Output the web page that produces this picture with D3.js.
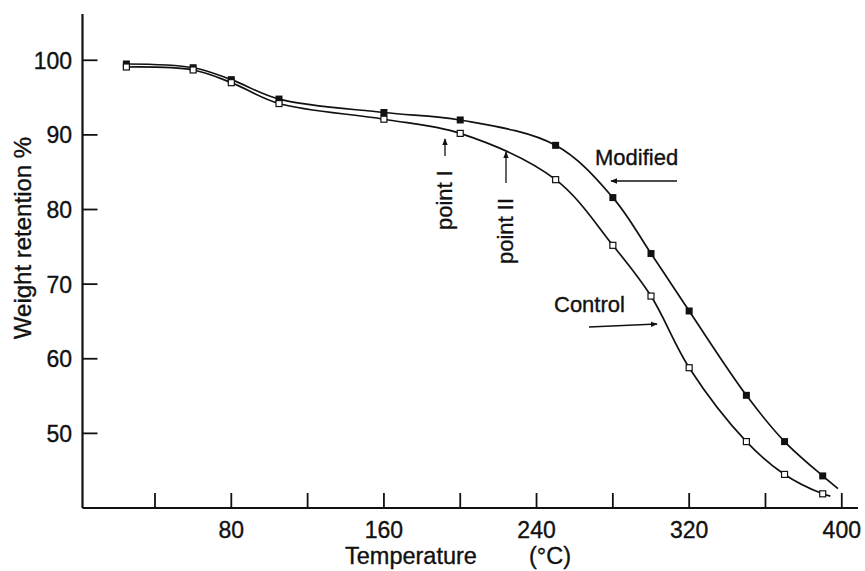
<!DOCTYPE html>
<html lang="en">
<head>
    <meta charset="UTF-8">
    <title>Weight retention vs temperature</title>
    <script src="https://d3js.org/d3.v7.min.js"></script>
    <style>
        body { margin: 0; background: #fff; }
        text { font-family: "Liberation Sans", Arial, sans-serif; fill: #111; stroke: #111; stroke-width: 0.35px; }
    </style>
</head>
<body>
    <div id="chart"></div>
    <script>
        // values
        var temps = [25, 60, 80, 105, 160, 200, 250, 280, 300, 320, 350, 370, 390];
        var modified = [99.5, 99.0, 97.4, 94.8, 93.0, 92.0, 88.6, 81.6, 74.1, 66.4, 55.1, 48.9, 44.3];
        var control = [99.1, 98.7, 97.0, 94.2, 92.1, 90.2, 84.0, 75.2, 68.4, 58.8, 48.9, 44.5, 41.9];
        // where each drawn curve runs out past the last marker
        var modifiedEnd = [398, 42.6];
        var controlEnd = [394, 41.6];

        var xTicks = [40, 80, 120, 160, 200, 240, 280, 320, 360, 400];
        var xLabels = [80, 160, 240, 320, 400];
        var yTicks = [50, 60, 70, 80, 90, 100];

        var width = 865, height = 571;

        var svg = d3.select("#chart")
            .append("svg")
            .attr("width", width)
            .attr("height", height);

        var x = d3.scaleLinear().domain([2, 408.5]).range([82.5, 858]);
        var y = d3.scaleLinear().domain([40, 106.2]).range([508, 14]);

        var ink = "#111";

        // axes lines
        svg.append("line")
            .attr("x1", x(2)).attr("x2", x(2))
            .attr("y1", y(106.2)).attr("y2", y(40))
            .attr("stroke", ink).attr("stroke-width", 2.2);
        svg.append("line")
            .attr("x1", x(2)).attr("x2", x(408.5))
            .attr("y1", y(40)).attr("y2", y(40))
            .attr("stroke", ink).attr("stroke-width", 2.2);

        // x ticks point up into the plot
        svg.selectAll(".xt")
            .data(xTicks)
            .enter()
            .append("line")
            .attr("x1", function(d){ return x(d) })
            .attr("x2", function(d){ return x(d) })
            .attr("y1", y(40))
            .attr("y2", y(40) - 15)
            .attr("stroke", ink).attr("stroke-width", 1.8);

        svg.selectAll(".xl")
            .data(xLabels)
            .enter()
            .append("text")
            .attr("x", function(d){ return x(d) })
            .attr("y", 538)
            .attr("text-anchor", "middle")
            .attr("font-size", "23px")
            .text(function(d){ return d });

        svg.selectAll(".yt")
            .data(yTicks)
            .enter()
            .append("line")
            .attr("x1", x(2))
            .attr("x2", x(2) + 15)
            .attr("y1", function(d){ return y(d) })
            .attr("y2", function(d){ return y(d) })
            .attr("stroke", ink).attr("stroke-width", 1.8);

        svg.selectAll(".yl")
            .data(yTicks)
            .enter()
            .append("text")
            .attr("x", 72)
            .attr("y", function(d){ return y(d) + 8.5 })
            .attr("text-anchor", "end")
            .attr("font-size", "23px")
            .text(function(d){ return d });

        // axis titles
        svg.append("text")
            .attr("x", 345).attr("y", 564)
            .attr("font-size", "23.5px")
            .text("Temperature");
        svg.append("text")
            .attr("x", 529).attr("y", 564)
            .attr("font-size", "23.5px")
            .text("(\u00B0C)");
        svg.append("text")
            .attr("transform", "translate(31,238) rotate(-90)")
            .attr("text-anchor", "middle")
            .attr("font-size", "24px")
            .text("Weight retention %");

        // curves
        var line = d3.line()
            .x(function(d){ return x(d[0]) })
            .y(function(d){ return y(d[1]) })
            .curve(d3.curveCatmullRom.alpha(0.5));

        var modPts = temps.map(function(t, i){ return [t, modified[i]] });
        var conPts = temps.map(function(t, i){ return [t, control[i]] });

        svg.append("path")
            .attr("d", line(modPts.concat([modifiedEnd])))
            .attr("fill", "none").attr("stroke", ink).attr("stroke-width", 1.7);
        svg.append("path")
            .attr("d", line(conPts.concat([controlEnd])))
            .attr("fill", "none").attr("stroke", ink).attr("stroke-width", 1.7);

        // markers
        svg.selectAll(".mm")
            .data(modPts)
            .enter()
            .append("rect")
            .attr("x", function(d){ return x(d[0]) - 3.5 })
            .attr("y", function(d){ return y(d[1]) - 3.5 })
            .attr("width", 7).attr("height", 7)
            .attr("fill", ink);

        svg.selectAll(".cm")
            .data(conPts)
            .enter()
            .append("rect")
            .attr("x", function(d){ return x(d[0]) - 3 })
            .attr("y", function(d){ return y(d[1]) - 3 })
            .attr("width", 6).attr("height", 6)
            .attr("fill", "#fff").attr("stroke", ink).attr("stroke-width", 1.2);

        // annotations
        var defs = svg.append("defs");
        defs.append("marker")
            .attr("id", "head")
            .attr("viewBox", "0 0 10 10")
            .attr("refX", 9).attr("refY", 5)
            .attr("markerWidth", 7).attr("markerHeight", 7)
            .attr("markerUnits", "userSpaceOnUse")
            .attr("orient", "auto")
            .append("path")
            .attr("d", "M0,1 L10,5 L0,9 Z")
            .attr("fill", ink);

        function arrow(x1, y1, x2, y2) {
            svg.append("line")
                .attr("x1", x1).attr("y1", y1)
                .attr("x2", x2).attr("y2", y2)
                .attr("stroke", ink).attr("stroke-width", 1.3)
                .attr("marker-end", "url(#head)");
        }

        svg.append("text")
            .attr("transform", "translate(452,230) rotate(-90)")
            .attr("font-size", "22px")
            .text("point I");
        arrow(445, 156, 445, 139);

        svg.append("text")
            .attr("transform", "translate(513,264) rotate(-90)")
            .attr("font-size", "22px")
            .text("point II");
        arrow(506, 183, 506, 152);

        svg.append("text")
            .attr("x", 595).attr("y", 165)
            .attr("font-size", "22px")
            .text("Modified");
        arrow(677, 181, 611, 181);

        svg.append("text")
            .attr("x", 554).attr("y", 312)
            .attr("font-size", "22px")
            .text("Control");
        arrow(589, 327, 657, 324);
    </script>
</body>
</html>
